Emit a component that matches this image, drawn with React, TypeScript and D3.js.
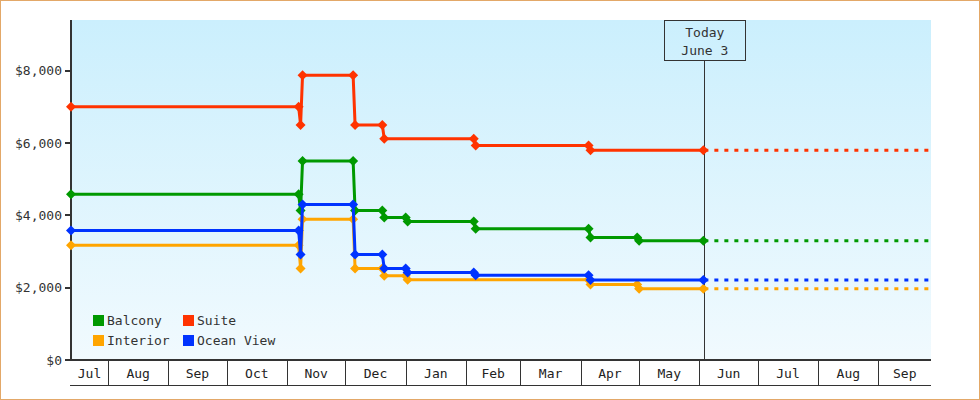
import React from 'react';
import * as d3 from 'd3';

// price history per cabin type: [date, price]
const seriesNames = ['Balcony', 'Suite', 'Interior', 'Ocean View'];
const seriesColors = ['#009900', '#ff3300', '#ffa500', '#0033ff'];

const balconyPrices: [string, number][] = [
  ['2024-07-13', 4580], ['2024-11-07', 4580], ['2024-11-08', 4130], ['2024-11-09', 5500],
  ['2024-12-05', 5500], ['2024-12-06', 4130], ['2024-12-20', 4130], ['2024-12-21', 3940],
  ['2025-01-01', 3940], ['2025-01-02', 3830], ['2025-02-05', 3830], ['2025-02-06', 3630],
  ['2025-04-05', 3630], ['2025-04-06', 3390], ['2025-04-30', 3390], ['2025-05-01', 3300],
  ['2025-06-03', 3300],
];
const suitePrices: [string, number][] = [
  ['2024-07-13', 7000], ['2024-11-07', 7000], ['2024-11-08', 6500], ['2024-11-09', 7870],
  ['2024-12-05', 7870], ['2024-12-06', 6500], ['2024-12-20', 6500], ['2024-12-21', 6120],
  ['2025-02-05', 6120], ['2025-02-06', 5930], ['2025-04-05', 5930], ['2025-04-06', 5800],
  ['2025-06-03', 5800],
];
const interiorPrices: [string, number][] = [
  ['2024-07-13', 3170], ['2024-11-07', 3170], ['2024-11-08', 2530], ['2024-11-09', 3890],
  ['2024-12-05', 3890], ['2024-12-06', 2530], ['2024-12-20', 2530], ['2024-12-21', 2330],
  ['2025-01-01', 2330], ['2025-01-02', 2220], ['2025-04-05', 2220], ['2025-04-06', 2090],
  ['2025-04-30', 2090], ['2025-05-01', 1970], ['2025-06-03', 1970],
];
const oceanViewPrices: [string, number][] = [
  ['2024-07-13', 3580], ['2024-11-07', 3580], ['2024-11-08', 2920], ['2024-11-09', 4300],
  ['2024-12-05', 4300], ['2024-12-06', 2920], ['2024-12-20', 2920], ['2024-12-21', 2530],
  ['2025-01-01', 2530], ['2025-01-02', 2420], ['2025-02-05', 2420], ['2025-02-06', 2340],
  ['2025-04-05', 2340], ['2025-04-06', 2210], ['2025-06-03', 2210],
];
const allPrices = [balconyPrices, suitePrices, interiorPrices, oceanViewPrices];

const dateRange = ['2024-07-13', '2025-09-28'];
const todayDate = '2025-06-03';
const todayLabel = ['Today', 'June 3'];
const yTicks = [0, 2000, 4000, 6000, 8000];
const yMax = 9400;

const W = 980;
const H = 400;
const left = 71;
const right = 931;
const top = 20;
const bottom = 360;
const font = '"DejaVu Sans Mono", monospace';

const parse = d3.timeParse('%Y-%m-%d');

export default function App() {
  const d0 = parse(dateRange[0])!;
  const d1 = parse(dateRange[1])!;
  const x = d3.scaleTime().domain([d0, d1]).range([left, right]);
  const y = d3.scaleLinear().domain([0, yMax]).range([bottom, top]);
  const today = new Date(parse(todayDate)!.getTime() + 12 * 3600 * 1000);
  const tx = x(today);

  const line = d3
    .line<[Date, number]>()
    .x((d) => x(d[0]))
    .y((d) => y(d[1]));

  const months = d3.timeMonth.range(d3.timeMonth.floor(d0), d1);
  const fmtMonth = d3.timeFormat('%b');
  const fmtY = d3.format('$,');

  const diamond = 'M0,-5L5,0L0,5L-5,0Z';

  return (
    <svg
      width={W}
      height={H}
      style={{ position: 'absolute', left: 0, top: 0, display: 'block' }}
      fontFamily={font}
      fontSize={13}
    >
      <defs>
        <linearGradient id="bg" x1="0" y1="0" x2="0" y2="1">
          <stop offset="0%" stopColor="#cbeffd" />
          <stop offset="100%" stopColor="#f1fafe" />
        </linearGradient>
      </defs>
      <rect x={0} y={0} width={W} height={H} fill="#fff" />
      <rect x={0.5} y={0.5} width={W - 1} height={H - 1} fill="none" stroke="#e3a868" />
      <rect x={left + 1} y={top} width={right - left - 1} height={bottom - top} fill="url(#bg)" />

      {/* y axis */}
      <line x1={left} x2={left} y1={top} y2={bottom + 1} stroke="#333" strokeWidth={2} shapeRendering="crispEdges" />
      {yTicks.map((t) => (
        <g key={t}>
          <line x1={65} x2={left} y1={y(t)} y2={y(t)} stroke="#333" strokeWidth={2} shapeRendering="crispEdges" />
          <text x={62} y={y(t)} dy="0.35em" textAnchor="end" fill="#333">
            {fmtY(t)}
          </text>
        </g>
      ))}

      {/* x axis month cells */}
      <line x1={left - 1} x2={right} y1={bottom} y2={bottom} stroke="#333" strokeWidth={2} shapeRendering="crispEdges" />
      <line x1={left - 1} x2={right} y1={385.5} y2={385.5} stroke="#333" strokeWidth={1} shapeRendering="crispEdges" />
      {months.map((m, i) => {
        const a = Math.max(x(m), left);
        const b = Math.min(x(d3.timeMonth.offset(m, 1)), right);
        return (
          <g key={i}>
            {x(m) > left && (
              <line x1={Math.round(x(m)) + 0.5} x2={Math.round(x(m)) + 0.5} y1={bottom} y2={385} stroke="#333" strokeWidth={1} />
            )}
            <text x={(a + b) / 2} y={378} textAnchor="middle" fill="#222">
              {fmtMonth(m)}
            </text>
          </g>
        );
      })}

      {/* today marker */}
      <line x1={Math.round(tx) + 0.5} x2={Math.round(tx) + 0.5} y1={61} y2={bottom} stroke="#333" strokeWidth={1} />
      <rect x={Math.round(tx) - 40 + 0.5} y={20.5} width={81} height={40} fill="none" stroke="#333" strokeWidth={1} />
      <text x={tx + 0.5} y={37} textAnchor="middle" fill="#333">
        {todayLabel[0]}
      </text>
      <text x={tx + 0.5} y={55} textAnchor="middle" fill="#333">
        {todayLabel[1]}
      </text>

      {/* series */}
      {allPrices.map((s, i) => {
        const pts: [Date, number][] = s.map((p) => [parse(p[0])!, p[1]]);
        const last = pts[pts.length - 1];
        const color = seriesColors[i];
        return (
          <g key={seriesNames[i]}>
            <line
              x1={x(last[0])}
              x2={right}
              y1={y(last[1])}
              y2={y(last[1])}
              stroke={color}
              strokeWidth={3}
              strokeDasharray="4 6"
              strokeDashoffset={-1}
            />
            <path d={line(pts) ?? ''} fill="none" stroke={color} strokeWidth={3} />
            {pts.map((p, j) => (
              <path key={j} d={diamond} transform={`translate(${x(p[0])},${y(p[1])})`} fill={color} />
            ))}
          </g>
        );
      })}

      {/* legend */}
      {seriesNames.map((n, i) => {
        const lx = i % 2 === 0 ? 93 : 183;
        const ly = i < 2 ? 315 : 335;
        return (
          <g key={n}>
            <rect x={lx} y={ly} width={11} height={11} fill={seriesColors[i]} />
            <text x={lx + 14} y={ly + 10} fill="#333">
              {n}
            </text>
          </g>
        );
      })}
    </svg>
  );
}
